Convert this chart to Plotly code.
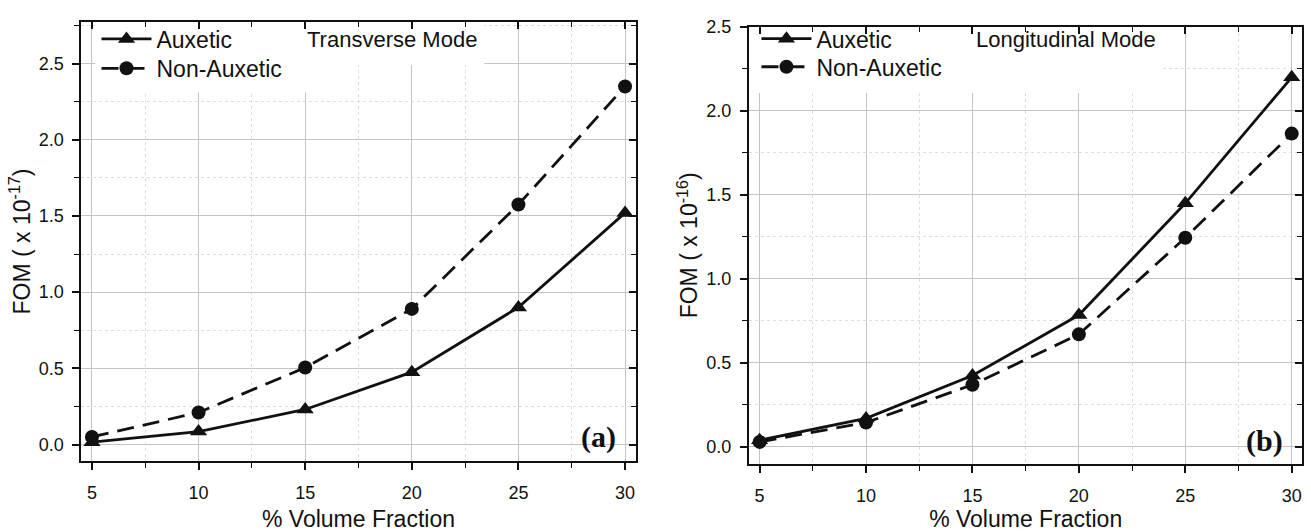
import plotly.graph_objects as go

# Volume fraction (%) on the x axis, shared by both panels
volume_fraction = [5, 10, 15, 20, 25, 30]

# (a) Transverse mode, FOM in units of 1e-17
transverse_auxetic = [0.015, 0.085, 0.23, 0.475, 0.90, 1.52]
transverse_non_auxetic = [0.05, 0.21, 0.505, 0.89, 1.575, 2.35]

# (b) Longitudinal mode, FOM in units of 1e-16
longitudinal_auxetic = [0.04, 0.17, 0.425, 0.785, 1.45, 2.20]
longitudinal_non_auxetic = [0.03, 0.145, 0.37, 0.67, 1.245, 1.865]

series_names = ["Auxetic", "Non-Auxetic"]
panel_titles = ["Transverse Mode", "Longitudinal Mode"]
panel_tags = ["(a)", "(b)"]
y_titles = ["FOM ( x 10<sup>-17</sup>)", "FOM ( x 10<sup>-16</sup>)"]
x_title = "% Volume Fraction"

SANS = "Liberation Sans, Arial, sans-serif"
SERIF = "Liberation Serif, Times New Roman, serif"
INK = "#111111"

fig = go.Figure()


def add_pair(xa, ya, legends, aux, non_aux):
    # each series gets its own one-row legend so the rows can be placed freely
    fig.add_trace(go.Scatter(
        x=volume_fraction, y=aux, name=series_names[0], mode="lines+markers",
        xaxis=xa, yaxis=ya, legend=legends[0],
        line=dict(color=INK, width=2.8),
        marker=dict(symbol="triangle-up", size=15, color=INK),
    ))
    fig.add_trace(go.Scatter(
        x=volume_fraction, y=non_aux, name=series_names[1], mode="lines+markers",
        xaxis=xa, yaxis=ya, legend=legends[1],
        line=dict(color=INK, width=2.8, dash="17px,9px"),
        marker=dict(symbol="circle", size=14, color=INK),
    ))


add_pair("x", "y", ["legend", "legend2"], transverse_auxetic, transverse_non_auxetic)
add_pair("x2", "y2", ["legend3", "legend4"], longitudinal_auxetic, longitudinal_non_auxetic)

x_range = [4.5, 30.5]
y_ranges = [[-0.105, 2.77], [-0.1, 2.5]]
x_domains = [[0.062, 0.4849], [0.5713, 0.9934]]
y_domains = [[0.1353, 0.9761], [0.1291, 0.9675]]

tick_font = dict(family=SANS, size=18, color=INK)
title_font = dict(family=SANS, size=23, color=INK)

major_grid = "#c4c4c4"
minor_grid = "#dedede"


def base_x(domain, anchor):
    return dict(
        domain=domain, anchor=anchor, range=x_range, tick0=5, dtick=5,
        ticks="outside", ticklen=7, tickwidth=1.6, tickcolor=INK,
        ticklabelstandoff=8,
        showline=True, linecolor=INK, linewidth=2, mirror=True,
        showgrid=True, gridcolor=major_grid, gridwidth=1, zeroline=False,
        tickfont=tick_font,
        title=dict(text=x_title, font=title_font, standoff=10),
        minor=dict(dtick=2.5, tick0=5, ticks="outside", ticklen=5, tickwidth=1.4,
                   tickcolor=INK, showgrid=True, gridcolor=minor_grid,
                   griddash="dot", gridwidth=1),
    )


def base_y(domain, anchor, yr, title):
    return dict(
        domain=domain, anchor=anchor, range=yr, tick0=0, dtick=0.5,
        tickformat=".1f",
        ticks="outside", ticklen=7, tickwidth=1.6, tickcolor=INK,
        ticklabelstandoff=5,
        showline=True, linecolor=INK, linewidth=2, mirror=True,
        showgrid=True, gridcolor=major_grid, gridwidth=1, zeroline=False,
        tickfont=tick_font,
        title=dict(text=title, font=title_font, standoff=2),
        minor=dict(dtick=0.25, tick0=0, ticks="outside", ticklen=5, tickwidth=1.4,
                   tickcolor=INK, showgrid=True, gridcolor=minor_grid,
                   griddash="dot", gridwidth=1),
    )


def inner_x(overlay, anchor):
    # top edge: ticks pointing into the plot, no labels
    return dict(
        overlaying=overlay, anchor=anchor, side="top", range=x_range,
        tick0=5, dtick=5, ticks="inside", ticklen=7, tickwidth=1.6, tickcolor=INK,
        showticklabels=False, showgrid=False, showline=False, zeroline=False,
        minor=dict(dtick=2.5, tick0=5, ticks="inside", ticklen=5, tickwidth=1.4,
                   tickcolor=INK, showgrid=False),
    )


def inner_y(overlay, anchor, yr):
    # right edge: ticks pointing into the plot, no labels
    return dict(
        overlaying=overlay, anchor=anchor, side="right", range=yr,
        tick0=0, dtick=0.5, ticks="inside", ticklen=7, tickwidth=1.6, tickcolor=INK,
        showticklabels=False, showgrid=False, showline=False, zeroline=False,
        minor=dict(dtick=0.25, tick0=0, ticks="inside", ticklen=5, tickwidth=1.4,
                   tickcolor=INK, showgrid=False),
    )


# empty traces so the mirrored tick axes are drawn
for xa, ya in [("x3", "y"), ("x", "y3"), ("x4", "y2"), ("x2", "y4")]:
    fig.add_trace(go.Scatter(x=[], y=[], xaxis=xa, yaxis=ya, showlegend=False,
                             hoverinfo="skip"))

legend_common = dict(
    bgcolor="rgba(0,0,0,0)", borderwidth=0,
    font=dict(family=SANS, size=23, color=INK),
    xanchor="left", yanchor="top", itemwidth=50,
)

fig.update_layout(
    width=1311, height=532,
    margin=dict(l=0, r=0, t=0, b=0),
    paper_bgcolor="white", plot_bgcolor="white",
    showlegend=True,
    xaxis=base_x(x_domains[0], "y"),
    yaxis=base_y(y_domains[0], "x", y_ranges[0], y_titles[0]),
    xaxis2=base_x(x_domains[1], "y2"),
    yaxis2=base_y(y_domains[1], "x2", y_ranges[1], y_titles[1]),
    xaxis3=inner_x("x", "y"),
    yaxis3=inner_y("y", "x", y_ranges[0]),
    xaxis4=inner_x("x2", "y2"),
    yaxis4=inner_y("y2", "x2", y_ranges[1]),
    legend=dict(x=0.0736, y=0.9856, **legend_common),
    legend2=dict(x=0.0736, y=0.9293, **legend_common),
    legend3=dict(x=0.577, y=0.9862, **legend_common),
    legend4=dict(x=0.577, y=0.9322, **legend_common),
)

# white panels behind the legends and mode labels so the grid stops there
fig.add_shape(type="rect", xref="x", yref="y", x0=5.15, x1=15.3, y0=2.31, y1=2.77,
              fillcolor="white", line=dict(width=0), layer="between")
fig.add_shape(type="rect", xref="x", yref="y", x0=14.1, x1=23.4, y0=2.49, y1=2.77,
              fillcolor="white", line=dict(width=0), layer="between")
fig.add_shape(type="rect", xref="x2", yref="y2", x0=4.5, x1=23.85, y0=2.106, y1=2.5,
              fillcolor="white", line=dict(width=0), layer="between")

# panel titles and tags
for i in range(2):
    fig.add_annotation(
        text=panel_titles[i], xref="paper", yref="paper",
        x=[0.299, 0.8135][i], y=[0.9432, 0.943][i],
        xanchor="center", yanchor="middle", showarrow=False,
        font=dict(family=SANS, size=22, color=INK),
    )
    fig.add_annotation(
        text="<b>" + panel_tags[i] + "</b>", xref="paper", yref="paper",
        x=[598 / 1311, 1264 / 1311][i], y=[1 - 436 / 532, 1 - 440 / 532][i],
        xanchor="center", yanchor="middle", showarrow=False,
        font=dict(family=SERIF, size=30, color=INK),
    )

fig.write_html("out.html")
